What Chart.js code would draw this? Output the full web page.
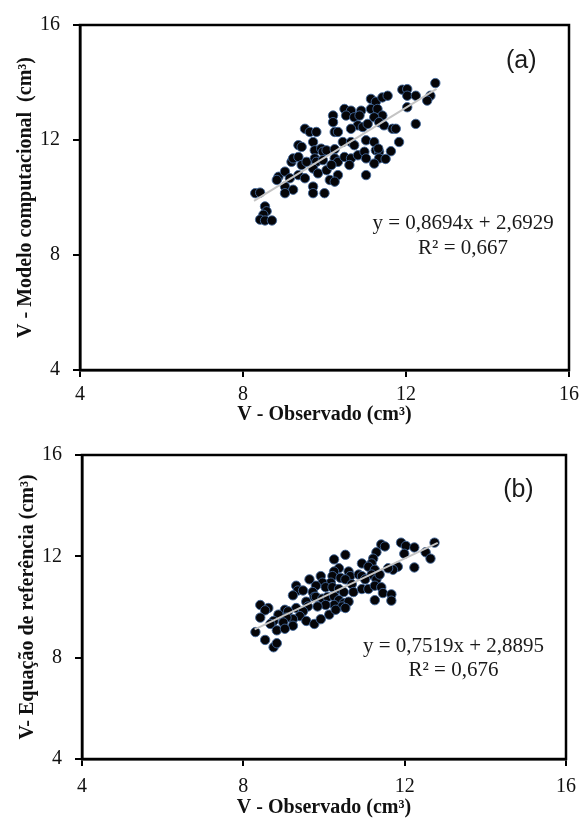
<!DOCTYPE html>
<html>
<head>
<meta charset="utf-8">
<script src="https://cdn.jsdelivr.net/npm/chart.js@4"></script>
<style>
  html, body { margin: 0; padding: 0; background: #fff; }
  body { width: 585px; height: 820px; position: relative; overflow: hidden; }
  canvas { position: absolute; left: 0; }
</style>
</head>
<body>
<canvas id="chartA" width="585" height="430" style="top:0"></canvas>
<canvas id="chartB" width="585" height="390" style="top:430px"></canvas>
<script>
// axis ticks (both panels)
const axisMin = 4
const axisMax = 16
const axisStep = 4

// panel (a): observed vs computational model
const obsA = [
  12.72, 12.60, 12.52, 11.91, 12.03, 12.03, 12.24, 12.03, 12.24,
  11.14, 11.26, 11.42, 11.55, 10.49, 10.65, 10.90, 10.21, 10.21,
  10.53, 10.73, 10.86, 11.14, 11.30, 11.42, 10.82, 10.94, 11.06,
  9.52, 9.64, 9.80, 10.25, 10.33, 10.65, 11.22, 11.34, 11.46,
  11.67, 11.75, 11.83, 11.63, 9.36, 9.44, 9.72, 9.76, 9.92,
  9.96, 10.05, 10.25, 10.45, 10.65, 10.73, 11.02, 11.22, 11.26,
  11.34, 9.19, 9.23, 9.36, 9.44, 9.56, 9.76, 9.80, 9.96,
  10.25, 10.33, 10.49, 10.65, 10.82, 10.98, 11.02, 11.34, 8.87,
  9.03, 9.15, 9.36, 9.52, 9.72, 9.84, 10.05, 10.17, 10.33,
  10.61, 11.22, 11.02, 8.83, 9.03, 9.23, 9.03, 9.72, 9.72,
  10.00, 10.13, 10.25, 8.30, 8.42, 8.54, 8.58, 8.50, 8.42,
  8.54, 8.71, 11.50, 11.32
]
const modelA = [
  13.98, 13.54, 13.37, 13.75, 13.77, 13.54, 13.54, 13.14, 12.56,
  13.43, 13.33, 13.48, 13.54, 13.08, 13.02, 13.02, 12.85, 12.62,
  12.85, 12.79, 12.85, 13.08, 13.08, 12.85, 12.51, 12.45, 12.56,
  12.39, 12.28, 12.28, 12.28, 12.28, 12.39, 12.79, 12.62, 12.51,
  12.39, 12.39, 11.93, 11.61, 11.82, 11.76, 11.93, 11.64, 11.70,
  11.59, 11.64, 11.68, 11.93, 11.93, 11.82, 11.99, 11.93, 11.64,
  11.59, 11.24, 11.36, 11.41, 11.13, 11.24, 11.36, 11.24, 11.30,
  11.36, 11.24, 11.41, 11.36, 11.47, 11.59, 11.36, 11.36, 10.72,
  10.90, 10.67, 10.78, 10.67, 11.01, 10.84, 10.95, 11.13, 10.78,
  11.13, 11.18, 10.78, 10.61, 10.38, 10.27, 10.15, 10.38, 10.15,
  10.15, 10.61, 10.55, 10.15, 10.17, 9.69, 9.52, 9.40, 9.23,
  9.20, 9.20, 11.34, 11.70
]
const fitA = [0.8694, 2.6929]   // slope, intercept
const fitRangeA = [8.27, 12.75]
const eqA = ['y = 0,8694x + 2,6929', 'R² = 0,667']

// panel (b): observed vs reference equation
const obsB = [
  12.74, 12.52, 12.64, 11.91, 12.03, 12.24, 11.99, 12.24, 11.42,
  11.51, 11.30, 11.22, 11.18, 11.83, 11.71, 11.59, 10.94, 11.10,
  11.26, 11.18, 11.30, 11.38, 10.53, 10.25, 10.37, 10.61, 10.65,
  10.86, 10.94, 11.02, 10.25, 10.21, 10.41, 10.53, 10.17, 9.64,
  9.92, 9.96, 9.80, 9.72, 9.76, 10.04, 9.31, 9.35, 9.23,
  9.48, 10.21, 10.37, 10.49, 10.69, 10.73, 10.94, 11.10, 11.26,
  11.42, 11.46, 11.26, 11.67, 11.67, 9.80, 9.96, 10.09, 10.25,
  10.37, 10.49, 10.61, 10.25, 10.04, 10.45, 10.53, 9.56, 9.60,
  9.84, 10.13, 10.29, 9.31, 9.48, 9.40, 9.23, 9.56, 9.76,
  9.92, 9.03, 9.11, 8.87, 8.75, 9.07, 8.99, 9.23, 8.42,
  8.62, 8.54, 8.42, 8.67, 8.30, 8.54, 8.83, 9.03, 8.75,
  8.83
]
const refB = [
  12.54, 12.16, 11.91, 12.54, 12.41, 12.35, 12.10, 11.56, 12.47,
  12.39, 12.16, 11.91, 11.72, 11.59, 11.47, 11.53, 11.72, 11.59,
  11.47, 11.28, 11.09, 11.28, 12.06, 11.88, 11.53, 11.40, 11.22,
  11.28, 11.22, 11.09, 11.40, 11.22, 11.15, 11.09, 10.96, 11.09,
  11.22, 10.96, 10.84, 10.59, 10.40, 10.78, 10.84, 10.65, 10.46,
  10.65, 10.78, 10.71, 10.59, 10.90, 10.59, 10.71, 10.71, 10.84,
  10.78, 10.55, 10.27, 10.50, 10.25, 10.40, 10.33, 10.40, 10.42,
  10.27, 10.15, 10.21, 10.08, 10.08, 10.02, 9.96, 10.21, 10.02,
  10.02, 9.70, 9.89, 9.96, 9.83, 9.64, 9.52, 9.45, 9.33,
  9.52, 9.89, 9.83, 9.70, 9.45, 9.58, 9.39, 9.26, 10.08,
  9.96, 9.87, 9.58, 9.33, 9.01, 8.70, 9.08, 9.14, 8.41,
  8.57
]
const fitB = [0.7519, 2.8895]
const fitRangeB = [8.28, 12.82]
const eqB = ['y = 0,7519x + 2,8895', 'R² = 0,676']

const serif = "'Liberation Serif', 'Times New Roman', serif"
Chart.defaults.font.family = serif
Chart.defaults.color = '#111'

// box round the plot, panel letter and the trendline equation
const extrasPlugin = {
  id: 'extras',
  afterDraw(chart, args, opts) {
    const {ctx, chartArea: a, scales} = chart
    ctx.save()
    ctx.strokeStyle = '#000'
    ctx.lineWidth = 2.5
    ctx.strokeRect(a.left, a.top, a.right - a.left, a.bottom - a.top)
    ctx.fillStyle = '#1a1a1a'
    ctx.textAlign = 'center'
    ctx.textBaseline = 'middle'
    ctx.font = "25px 'Liberation Sans', Arial, sans-serif"
    ctx.fillText(opts.tag, scales.x.getPixelForValue(opts.tagAt[0]), scales.y.getPixelForValue(opts.tagAt[1]))
    ctx.font = '21px ' + serif
    const ex = scales.x.getPixelForValue(opts.eqAt[0])
    ctx.fillText(opts.eq[0], ex, scales.y.getPixelForValue(opts.eqAt[1]))
    ctx.fillText(opts.eq[1], ex, scales.y.getPixelForValue(opts.eqAt[2]))
    ctx.restore()
  }
}

function makePanel(id, xs, ys, fit, range, yTitle, box, extras) {
  const pts = xs.map((x, i) => ({x: x, y: ys[i]}))
  const line = range.map(x => ({x: x, y: fit[0] * x + fit[1]}))
  const axisCommon = {
    type: 'linear',
    min: axisMin,
    max: axisMax,
    grid: {drawOnChartArea: false, drawTicks: true, tickLength: 7, color: '#000', lineWidth: 2},
    border: {display: true, color: '#000', width: 2.5}
  }
  return new Chart(document.getElementById(id), {
    type: 'scatter',
    data: {
      datasets: [{
        type: 'line',
        data: line,
        showLine: true,
        borderColor: '#c4c4c4',
        borderWidth: 2,
        pointRadius: 0,
        order: 0
      }, {
        data: pts,
        pointRadius: 4.7,
        backgroundColor: '#050508',
        borderColor: '#41679a',
        borderWidth: 0.9,
        order: 1
      }]
    },
    options: {
      responsive: false,
      animation: false,
      layout: {padding: {left: 0, top: box.top, right: box.right, bottom: 0}},
      plugins: {legend: {display: false}, tooltip: {enabled: false}, extras: extras},
      scales: {
        x: Object.assign({}, axisCommon, {
          position: 'bottom',
          ticks: {stepSize: axisStep, padding: box.xTickPad, color: '#111', font: {size: 20}},
          title: {display: true, text: 'V - Observado (cm³)', color: '#111',
                  font: {size: 20, weight: 'bold'}, padding: {top: 0, bottom: box.xTitlePad}},
          afterFit: s => { s.height = box.xHeight }
        }),
        y: Object.assign({}, axisCommon, {
          position: 'left',
          ticks: {stepSize: axisStep, padding: 13, color: '#111', font: {size: 20}},
          title: {display: true, text: yTitle, color: '#111',
                  font: {size: 20, weight: 'bold'}, padding: {top: box.yTitlePad, bottom: 0}},
          afterFit: s => { s.width = box.yWidth }
        })
      }
    },
    plugins: [extrasPlugin]
  })
}

makePanel('chartA', obsA, modelA, fitA, fitRangeA, 'V - Modelo computacional  (cm³)',
  {top: 22, right: 12, yWidth: 80, xHeight: 60, xTickPad: 6, xTitlePad: 3, yTitlePad: 14},
  {tag: '(a)', tagAt: [14.83, 14.76], eq: eqA, eqAt: [13.40, 9.10, 8.21]})

makePanel('chartB', obsB, refB, fitB, fitRangeB, 'V- Equação de referência (cm³)',
  {top: 12, right: 11, yWidth: 82, xHeight: 61, xTickPad: 9, xTitlePad: 0, yTitlePad: 16},
  {tag: '(b)', tagAt: [14.82, 14.63], eq: eqB, eqAt: [13.21, 8.43, 7.48]})
</script>
</body>
</html>
